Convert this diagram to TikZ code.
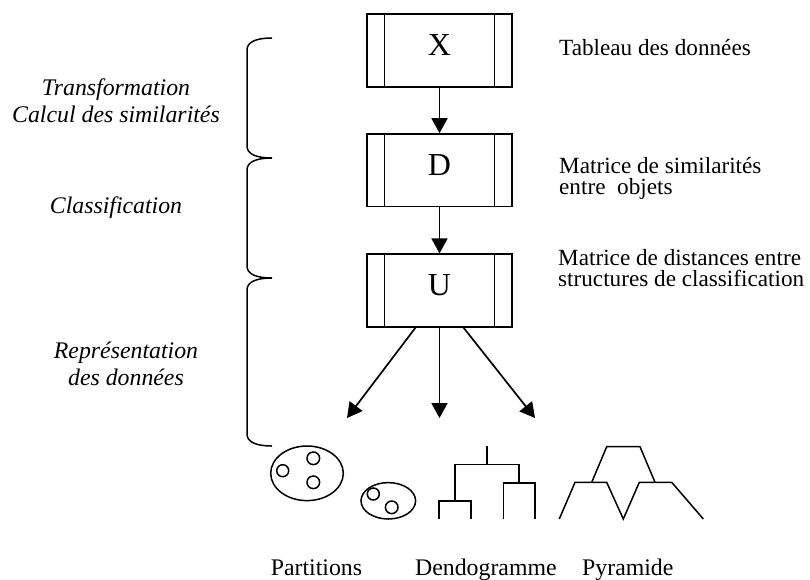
\documentclass[tikz,border=0pt]{standalone}
\usepackage{fontspec}
\setmainfont{Liberation Serif}
\usetikzlibrary{arrows.meta}

\begin{document}
\begin{tikzpicture}[
  x=1pt,y=-1pt,
  line width=1.7pt,
  font=\fontsize{23.8}{21}\selectfont,
  matbox/.style={draw, line width=1.7pt, minimum width=145pt, minimum height=72.5pt,
    inner sep=0pt, font=\fontsize{32}{32}\selectfont, text depth=11pt,
    path picture={
      \draw[line width=1.7pt] ([xshift=17.5pt]path picture bounding box.north west)
        -- ([xshift=17.5pt]path picture bounding box.south west);
      \draw[line width=1.7pt] ([xshift=-17.5pt]path picture bounding box.north east)
        -- ([xshift=-17.5pt]path picture bounding box.south east);}},
  flow/.style={-{Triangle[length=15pt,width=16pt]}, line width=1.7pt},
  desc/.style={anchor=base west, align=left, font=\fontsize{23.2}{21.5}\selectfont},
  stage/.style={anchor=base, align=center, font=\itshape\fontsize{23.8}{27}\selectfont},
  caption/.style={anchor=base west},
  icon/.style={line width=1.5pt}
]
\useasboundingbox (0,0) rectangle (810,579);

% Matrices
\node[matbox] (X) at (439.5,50.5) {X};
\node[matbox] (D) at (439.5,170.3) {D};
\node[matbox] (U) at (439.5,290.5) {U};

% (multi-line nodes: base is the last line)
\node[desc] (tableau) at (555,55) {Tableau des donn\'ees};
\node[desc] (simil) at (555,194.5) {Matrice de similarit\'es\\entre~~objets};
\node[desc] (dist) at (554,286.5) {Matrice de distances entre\\structures de classification};

\draw[flow] (X) -- (D);
\draw[flow] (D) -- (U);

% Representations
\coordinate (topart) at (347,418);
\coordinate (todendo) at (439.5,418);
\coordinate (topyr) at (535,418);
\draw[flow] ([xshift=-24pt]U.south) -- (topart);
\draw[flow] (U) -- (todendo);
\draw[flow] ([xshift=24pt]U.south) -- (topyr);

% Partitions
\draw[icon] (307,473.3) ellipse [x radius=36.3pt, y radius=27.3pt];
\draw[icon] (282.7,470.7) circle [radius=6pt];
\draw[icon] (313.3,458.3) circle [radius=6.3pt];
\draw[icon] (313.3,482.3) circle [radius=6.3pt];
\draw[icon] (388.3,500.8) ellipse [x radius=27.3pt, y radius=18.2pt];
\draw[icon] (373.3,494) circle [radius=6pt];
\draw[icon] (391.7,507.3) circle [radius=6.3pt];

% Dendogramme
\draw[icon] (487,446) -- (487,464.3);
\draw[icon] (455,501) |- (519,464.3) -- (519,483);
\draw[icon] (439,519) |- (471,501) -- (471,519);
\draw[icon] (503.3,519) |- (535,483) -- (535,519);

% Pyramide
\draw[icon] (559.3,519) -- (575,482.3) -- (606.7,482.3) -- (623.3,519)
  -- (639.3,482.3) -- (671.7,482.3) -- (703.3,519);
\draw[icon] (591.7,482.3) -- (606.7,446.7) -- (640,446.7) -- (655,482.3);

\node[caption] (part) at (266.7,575) {Partitions};
\node[caption] (dendo) at (411,575) {Dendogramme};
\node[caption] (pyr) at (578,575) {Pyramide};

% Stages and braces
\node[stage] (transf) at (116,122) {Transformation\\Calcul des similarit\'es};
\node[stage] (classif) at (116,213) {Classification};
\node[stage] (repr) at (126,385) {Repr\'esentation\\des donn\'ees};

\draw[line width=1.5pt] (272,38) .. controls (256,38) and (247,42) .. (247,50)
  -- (247,146) .. controls (247,154) and (256,158) .. (272,158)
  .. controls (256,158) and (247,162) .. (247,170)
  -- (247,266) .. controls (247,274) and (256,278) .. (272,278)
  .. controls (256,278) and (247,282) .. (247,290)
  -- (247,434) .. controls (247,442) and (256,446) .. (272,446);
\end{tikzpicture}
\end{document}
